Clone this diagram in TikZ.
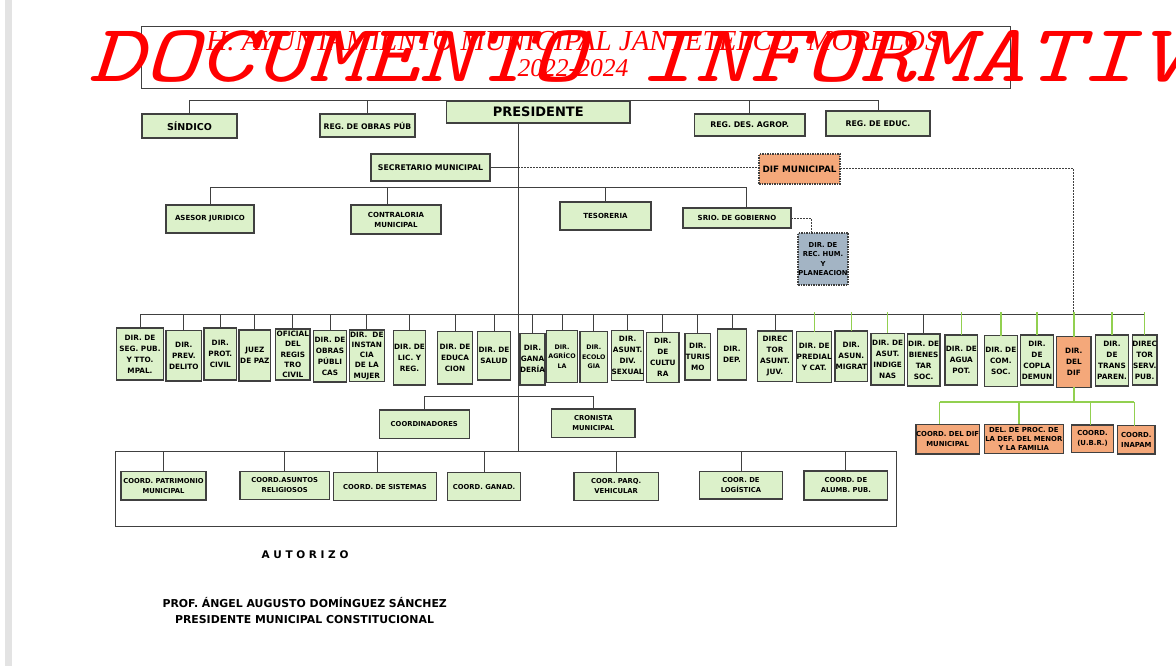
\documentclass[tikz,border=0pt]{standalone}
\usepackage{fontspec}
\setmainfont{DejaVu Sans}
\newfontfamily\hdrfont{Liberation Serif}
\usetikzlibrary{calc}
\definecolor{boxgreen}{RGB}{220,241,202}
\definecolor{boxorange}{RGB}{244,168,122}
\definecolor{boxblue}{RGB}{163,180,196}
\definecolor{linegreen}{RGB}{146,208,80}
\definecolor{edgec}{RGB}{64,64,64}
\definecolor{wmred}{RGB}{255,0,0}
\newcommand{\orgbox}[7]{\node[#1,anchor=north west,minimum width={#5-#3},minimum height={#6-#4}] (#2) at (#3,#4) {#7};}
\tikzset{
  basebox/.style={draw=edgec, line width=1.2pt, inner sep=0pt, outer sep=0pt, align=center, text=black,
                  font=\bfseries\fontsize{7}{10}\selectfont},
  gbox/.style={basebox, fill=boxgreen},
  dbox/.style={basebox, fill=boxgreen, font=\bfseries\fontsize{7.3}{11}\selectfont},
  dboxo/.style={dbox, fill=boxorange},
  cbox/.style={gbox, font=\bfseries\fontsize{6.8}{10}\selectfont},
  cboxo/.style={basebox, fill=boxorange, font=\bfseries\fontsize{6.9}{10}\selectfont},
  dotbox/.style={basebox, dash pattern=on 1.5pt off 1pt},
  conn/.style={draw=edgec, line width=1pt},
  gconn/.style={draw=linegreen, line width=1.4pt},
  dconn/.style={draw=edgec, line width=1pt, dash pattern=on 2pt off 1pt},
  lbl/.style={inner sep=0pt, font=\bfseries\fontsize{10.9}{13}\selectfont, text=black}
}
\begin{document}
\begin{tikzpicture}[x=1pt,y=-1pt]
\useasboundingbox (0,0) rectangle (1176,666);
\fill[white] (0,0) rectangle (1176,666);
\fill[gray!22] (5,0) rectangle (12,666);

% header
\node[draw=edgec, line width=1pt, anchor=north west, minimum width=869, minimum height=62, inner sep=0pt] (hdr) at (141,26) {};
\node[anchor=base, inner sep=0pt, text=wmred, font=\hdrfont\itshape\fontsize{29}{29}\selectfont] (hl1) at (573,51) {H. AYUNTAMIENTO MUNICIPAL JANTETELCO, MORELOS};
\node[anchor=base, inner sep=0pt, text=wmred, font=\hdrfont\itshape\fontsize{25.6}{26}\selectfont] (hl2) at (573,77) {2022-2024};

% top level
\orgbox{gbox,font=\bfseries\fontsize{9.5}{11}\selectfont}{sindico}{142}{114}{237}{138}{SÍNDICO}
\orgbox{gbox,font=\bfseries\fontsize{7.7}{10}\selectfont}{obras}{320}{114}{415}{137}{REG. DE OBRAS PÚB}
\orgbox{gbox,font=\bfseries\fontsize{13}{15}\selectfont}{pres}{446.5}{101}{630}{123}{PRESIDENTE}
\orgbox{gbox,font=\bfseries\fontsize{7.8}{10}\selectfont}{agrop}{694.5}{114}{805}{136}{REG. DES. AGROP.}
\orgbox{gbox,font=\bfseries\fontsize{7.8}{10}\selectfont}{educ}{826}{111}{930}{136}{REG. DE EDUC.}
\orgbox{gbox,font=\bfseries\fontsize{7.8}{10}\selectfont}{secre}{371}{154}{490}{181}{SECRETARIO MUNICIPAL}
\orgbox{dotbox,fill=boxorange,font=\bfseries\fontsize{8.8}{10}\selectfont}{dif}{759}{154}{840}{184}{DIF MUNICIPAL}

% second level
\orgbox{gbox}{asesor}{166}{205}{254}{233}{ASESOR JURIDICO}
\orgbox{gbox}{contra}{351}{205}{441}{234}{CONTRALORIA\\MUNICIPAL}
\orgbox{gbox}{teso}{560}{202}{651}{230}{TESORERIA}
\orgbox{gbox}{srio}{683}{208}{791}{228}{SRIO. DE GOBIERNO}
\orgbox{dotbox,fill=boxblue,font=\bfseries\fontsize{6.8}{9.6}\selectfont}{rechum}{798}{233}{848}{285}{DIR. DE\\REC. HUM.\\Y\\PLANEACION}

% directors
\orgbox{dbox}{d1}{116.7}{328}{163.3}{380}{DIR. DE\\SEG. PUB.\\Y TTO.\\MPAL.}
\orgbox{dbox}{d2}{166}{330.7}{201.7}{381}{DIR.\\PREV.\\DELITO}
\orgbox{dbox}{d3}{204}{328}{236.7}{380}{DIR.\\PROT.\\CIVIL}
\orgbox{dbox}{d4}{239}{330}{270.7}{381}{JUEZ\\DE PAZ}
\orgbox{dbox,font=\bfseries\fontsize{7.3}{10.2}\selectfont}{d5}{275.7}{329}{310}{380}{OFICIAL\\DEL\\REGIS\\TRO\\CIVIL}
\orgbox{dbox}{d6}{313.3}{330.7}{346.7}{382}{DIR. DE\\OBRAS\\PÚBLI\\CAS}
\orgbox{dbox,font=\bfseries\fontsize{7.3}{10.2}\selectfont}{d7}{349.3}{330}{384.3}{381.7}{DIR.~~DE\\INSTAN\\CIA\\DE LA\\MUJER}
\orgbox{dbox}{d8}{393.3}{330.7}{425.7}{385}{DIR. DE\\LIC. Y\\REG.}
\orgbox{dbox}{d9}{437.7}{331.7}{472.3}{384}{DIR. DE\\EDUCA\\CION}
\orgbox{dbox}{d10}{477.3}{331.7}{510.7}{380}{DIR. DE\\SALUD}
\orgbox{dbox}{d11}{520}{333.3}{543.3}{385}{DIR.\\GANA\\DERÍA}
\orgbox{dbox,font=\bfseries\fontsize{6.3}{9.5}\selectfont}{d12}{546.7}{330.7}{577.3}{382.7}{DIR.\\AGRÍCO\\LA}
\orgbox{dbox,font=\bfseries\fontsize{6.3}{9.5}\selectfont}{d13}{580}{331.7}{607.7}{382.7}{DIR.\\ECOLO\\GIA}
\orgbox{dbox}{d14}{611.7}{330.7}{642.7}{380.7}{DIR.\\ASUNT.\\DIV.\\SEXUAL}
\orgbox{dbox}{d15}{646.7}{332.3}{679}{382.3}{DIR.\\DE\\CULTU\\RA}
\orgbox{dbox}{d16}{685}{333.3}{710.7}{380}{DIR.\\TURIS\\MO}
\orgbox{dbox}{d17}{717.3}{329}{746.7}{380}{DIR.\\DEP.}
\orgbox{dbox}{d18}{757.7}{331}{792.3}{381.7}{DIREC\\TOR\\ASUNT.\\JUV.}
\orgbox{dbox}{d19}{796.7}{331.7}{829.3}{382.7}{DIR. DE\\PREDIAL\\Y CAT.}
\orgbox{dbox}{d20}{835}{331}{867.7}{381.7}{DIR.\\ASUN.\\MIGRAT}
\orgbox{dbox}{d21}{871}{333.3}{904.3}{385}{DIR. DE\\ASUT.\\INDIGE\\NAS}
\orgbox{dbox}{d22}{907.3}{334}{940}{386}{DIR. DE\\BIENES\\TAR\\SOC.}
\orgbox{dbox}{d23}{945}{335}{977.7}{385}{DIR. DE\\AGUA\\POT.}
\orgbox{dbox}{d24}{984.3}{335.7}{1017.3}{386.7}{DIR. DE\\COM.\\SOC.}
\orgbox{dbox}{d25}{1020.7}{335}{1053.3}{385}{DIR.\\DE\\COPLA\\DEMUN}
\orgbox{dboxo}{d26}{1056.7}{336.7}{1091}{387.3}{DIR.\\DEL\\DIF}
\orgbox{dbox}{d27}{1095.7}{335}{1128.3}{386}{DIR.\\DE\\TRANS\\PAREN.}
\orgbox{dbox}{d28}{1132.3}{335}{1155}{385}{DIREC\\TOR\\SERV.\\PUB.}

% DIF coordinations
\orgbox{cboxo}{c1}{916}{424.3}{979.3}{454}{COORD. DEL DIF\\MUNICIPAL}
\orgbox{cboxo,font=\bfseries\fontsize{6.9}{9}\selectfont}{c2}{984.3}{424.3}{1063.3}{453.3}{DEL. DE PROC. DE\\LA DEF. DEL MENOR\\Y LA FAMILIA}
\orgbox{cboxo}{c3}{1071.7}{425}{1113.3}{452.3}{COORD.\\(U.B.R.)}
\orgbox{cboxo}{c4}{1117.7}{425.7}{1155}{454}{COORD.\\INAPAM}

% coordinadores / cronista
\orgbox{cbox}{coord}{379.3}{410}{469.3}{438.3}{COORDINADORES}
\orgbox{cbox}{cron}{551.7}{409}{635}{437.3}{CRONISTA\\MUNICIPAL}

% bottom frame and coordinations
\node[draw=edgec, line width=1pt, anchor=north west, minimum width=781, minimum height=75.7, inner sep=0pt, outer sep=0pt] (big) at (115.7,451) {};
\orgbox{cbox}{b1}{121}{471.7}{206}{500}{COORD. PATRIMONIO\\MUNICIPAL}
\orgbox{cbox}{b2}{240}{471.7}{329.3}{499.3}{COORD.ASUNTOS\\RELIGIOSOS}
\orgbox{cbox}{b3}{333.3}{472.7}{436.7}{500.7}{COORD. DE SISTEMAS}
\orgbox{cbox}{b4}{447.7}{472.7}{520.5}{500.7}{COORD. GANAD.}
\orgbox{cbox}{b5}{574}{472.3}{658.3}{500.7}{COOR. PARQ.\\VEHICULAR}
\orgbox{cbox}{b6}{699.3}{471.7}{782.7}{499}{COOR. DE\\LOGÍSTICA}
\orgbox{cbox}{b7}{804}{471}{887.7}{500}{COORD. DE\\ALUMB. PUB.}

% connectors
\coordinate (tt) at (518,123);
\coordinate (l2) at (0,188);
\coordinate (dl) at (0,314);
\coordinate (cl) at (0,396);
\coordinate (sl) at (0,402);

\draw[conn] (sindico.north) -- (sindico.north |- pres.north) -- (educ.north |- pres.north) -- (educ.north);
\draw[conn] (obras.north) -- (obras.north |- pres.north);
\draw[conn] (agrop.north) -- (agrop.north |- pres.north);
\draw[conn] (tt) -- (tt |- big.north);

\draw[conn] (secre.east) -- (secre.east -| tt);
\draw[dconn] (secre.east -| tt) -- (dif.west |- secre.east);
\draw[dconn] (dif.east) -| (d26.north |- dl);

\draw[conn] (asesor.north) -- (asesor.north |- l2) -- ([xshift=9pt]srio.north |- l2) -- ([xshift=9pt]srio.north);
\draw[conn] ([xshift=-9pt]contra.north) -- ([xshift=-9pt]contra.north |- l2);
\draw[conn] (teso.north) -- (teso.north |- l2);
\draw[dconn] (srio.east) -| ([xshift=-12pt]rechum.north);

\draw[conn] (d1.north |- dl) -- (d28.north |- dl);
\foreach \n in {1,...,18,22} \draw[conn] (d\n.north |- dl) -- (d\n.north);
\foreach \n in {19,20,21,23,24,25,26,27,28} \draw[gconn] ([yshift=2pt]d\n.north |- dl) -- (d\n.north);

\draw[gconn] (d26.south) -- (d26.south |- sl);
\draw[gconn] ([xshift=-8pt]c1.north |- sl) -- ([xshift=-2pt]c4.north |- sl);
\draw[gconn] ([xshift=-8pt]c1.north |- sl) -- ([xshift=-8pt]c1.north);
\draw[gconn] ([xshift=-5pt]c2.north |- sl) -- ([xshift=-5pt]c2.north);
\draw[gconn] ([xshift=-2pt]c3.north |- sl) -- ([xshift=-2pt]c3.north);
\draw[gconn] ([xshift=-2pt]c4.north |- sl) -- ([xshift=-2pt]c4.north);

\draw[conn] (coord.north) -- (coord.north |- cl) -- (cron.north |- cl) -- (cron.north);

\foreach \n in {1,2,4,5,6,7} \draw[conn] (b\n.north |- big.north) -- (b\n.north);
\draw[conn] ([xshift=-8pt]b3.north |- big.north) -- ([xshift=-8pt]b3.north);

% signature
\node[lbl, font=\bfseries\fontsize{10.5}{12}\selectfont] (aut) at (305,555) {A U T O R I Z O};
\node[lbl] (prof) at (304.7,602.7) {PROF. ÁNGEL AUGUSTO DOMÍNGUEZ SÁNCHEZ};
\node[lbl] (pmc) at (304.5,619.3) {PRESIDENTE MUNICIPAL CONSTITUCIONAL};

% watermark
\node[anchor=base west, inner sep=0pt, text=wmred, font=\ttfamily\itshape\fontsize{105}{105}\selectfont] (wm) at (88,82) {\scalebox{1}[0.78]{DOCUMENTO INFORMATIVO}};
\end{tikzpicture}
\end{document}
